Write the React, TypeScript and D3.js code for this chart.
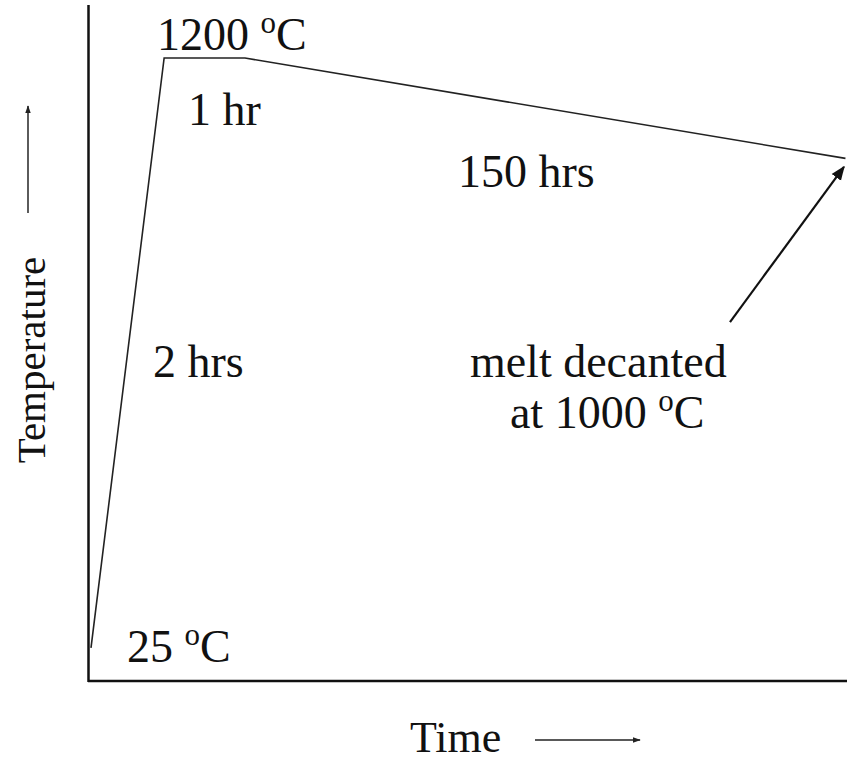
import React from "react";
import * as d3 from "d3";

// Schematic heating profile (time in schematic units, temperature in °C)
const stageTimes = [0, 0.95, 2, 9.8];
const stageTemps = [25, 1200, 1200, 1000];

const stageLabels = ["2 hrs", "1 hr", "150 hrs"];
const stageLabelTimes = [0.805, 1.26, 4.766];
const stageLabelTemps = [564, 1066, 943];

const tempLabels = ["25", "1200"];
const tempLabelTimes = [0.468, 0.857];
const tempLabelTemps = [-3, 1216];

const noteLines = ["melt decanted", "at 1000"];
const noteTimes = [4.922, 5.442];
const noteTemps = [564, 463];

const arrowFrom = { t: 8.3, T: 674 };
const arrowTo = { t: 9.78, T: 983 };

const W = 847;
const H = 761;

export default function App() {
  const x = d3.scaleLinear().domain([0, 9.82]).range([91, 847]);
  const y = d3.scaleLinear().domain([-41, 1305.6]).range([681, 5]);

  const pts = stageTimes.map((t, i) => [x(t), y(stageTemps[i])] as [number, number]);
  const line = d3.line()(pts) || "";

  const font = "'Liberation Serif', 'Times New Roman', serif";
  const fs = 46;

  const deg = (
    <>
      {" "}
      <tspan fontSize={31} dy={-17}>o</tspan>
      <tspan dy={17}>C</tspan>
    </>
  );

  const ax1 = x(arrowFrom.t), ay1 = y(arrowFrom.T), ax2 = x(arrowTo.t), ay2 = y(arrowTo.T);

  return (
    <svg width={W} height={H} style={{ position: "absolute", left: 0, top: 0, background: "#fff" }}
      fontFamily={font} fontSize={fs} fill="#111">
      <defs>
        <marker id="ah" viewBox="0 0 10 10" refX="9" refY="5" markerWidth="6.5" markerHeight="6.5" orient="auto">
          <path d="M0,1 L10,5 L0,9 Z" fill="#111" />
        </marker>
        <marker id="ah2" viewBox="0 0 10 10" refX="9" refY="5" markerWidth="5" markerHeight="5" orient="auto">
          <path d="M0,1.5 L10,5 L0,8.5 Z" fill="#222" />
        </marker>
      </defs>
      {/* axes */}
      <line x1={88.5} y1={5} x2={88.5} y2={682} stroke="#111" strokeWidth={2.5} />
      <line x1={88} y1={681} x2={847} y2={681} stroke="#111" strokeWidth={2.5} />
      {/* profile */}
      <path d={line} fill="none" stroke="#222" strokeWidth={1.6} />
      {/* annotation arrow */}
      <line x1={ax1} y1={ay1} x2={ax2} y2={ay2} stroke="#111" strokeWidth={2.2} markerEnd="url(#ah)" />
      {/* temperature labels */}
      {tempLabels.map((l, i) => (
        <text key={l} x={x(tempLabelTimes[i])} y={y(tempLabelTemps[i])}>
          {l}{deg}
        </text>
      ))}
      {stageLabels.map((l, i) => (
        <text key={l} x={x(stageLabelTimes[i])} y={y(stageLabelTemps[i])}>{l}</text>
      ))}
      <text x={x(noteTimes[0])} y={y(noteTemps[0])}>{noteLines[0]}</text>
      <text x={x(noteTimes[1])} y={y(noteTemps[1])}>{noteLines[1]}{deg}</text>
      {/* axis titles */}
      <text x={410} y={752} fontSize={44}>Time</text>
      <line x1={535} y1={740} x2={640} y2={740} stroke="#222" strokeWidth={1.6} markerEnd="url(#ah2)" />
      <text transform="translate(45,360) rotate(-90)" textAnchor="middle" fontSize={41}>Temperature</text>
      <line x1={28} y1={213} x2={28} y2={106} stroke="#333" strokeWidth={1.6} markerEnd="url(#ah2)" />
    </svg>
  );
}
